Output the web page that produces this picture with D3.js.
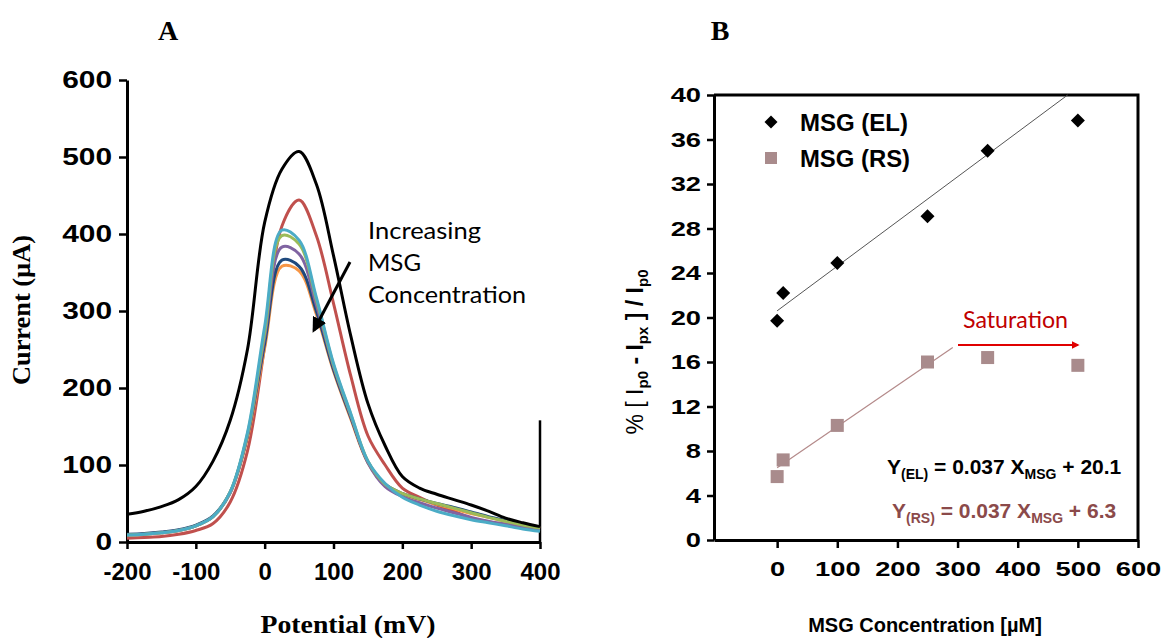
<!DOCTYPE html>
<html>
<head>
<meta charset="utf-8">
<script src="https://cdn.jsdelivr.net/npm/d3@7"></script>
<style>
  body { margin: 0; background: #fff; }
</style>
</head>
<body>
<div id="chart"></div>
<script>
// ---- panel A data: DPV curves, current (uA) vs potential (mV)
var potential = [-200,-175,-150,-125,-100,-75,-50,-25,0,25,50,75,100,125,150,175,200,225,250,275,300,325,350,375,400];
var curveBlack  = [36,40,46,55,72,105,158,250,415,484,507,465,372,268,180,125,85,70,62,55,48,40,31,25,20];
var curveRed    = [5,6,7,10,15,24,52,118,255,410,444,398,310,216,138,100,70,58,48,40,31,26,23,20,17];
var curveOrange = [9,10,12,15,21,33,64,135,252,358,352,296,222,160,103,74,62,55,49,43,37,32,27,22,18];
var curveNavy   = [10,11,13,16,22,34,65,138,258,366,358,300,224,162,104,75,63,56,50,45,39,33,28,23,19];
var curvePurple = [9,10,12,15,21,33,64,138,266,383,374,308,228,164,103,72,59,51,44,38,32,27,23,19,16];
var curveGreen  = [9,10,12,15,21,33,65,140,272,398,387,315,230,166,105,75,63,56,50,44,38,32,27,22,18];
var curveCyan   = [9,10,12,15,21,33,65,142,280,405,392,318,232,167,105,76,58,48,40,34,29,25,21,17,14];
var yTicksA = [0,100,200,300,400,500,600];
var xTicksA = [-200,-100,0,100,200,300,400];

// ---- panel B data: % signal drop vs MSG concentration (uM)
var conc = [0, 10, 100, 250, 350, 500];
var pctEL = [19.7, 22.2, 24.9, 29.1, 35.0, 37.7];
var pctRS = [5.7, 7.2, 10.3, 16.0, 16.4, 15.7];
var fitELx = [0, 483], fitELy = [20.6, 40];
var fitRSx = [0, 292], fitRSy = [6.5, 17.3];
var yTicksB = [0,4,8,12,16,20,24,28,32,36,40];
var xTicksB = [0,100,200,300,400,500,600];

var SANS = "'Liberation Sans', Arial, sans-serif";
var SERIF = "'Liberation Serif', 'Times New Roman', serif";
var CALI = "Lato, 'Open Sans', sans-serif";

var svg = d3.select("#chart").append("svg")
    .attr("width", 1162)
    .attr("height", 638)
    .style("font-family", SANS);

// widen a text horizontally by factor k (the reference text is stretched)
function stretch(sel, k) {
  sel.each(function() {
    var w = this.getComputedTextLength();
    d3.select(this).attr("textLength", w * k).attr("lengthAdjust", "spacingAndGlyphs");
  });
}

function styleAxis(g, size, k) {
  g.select(".domain").attr("stroke-width", 3);
  g.selectAll(".tick line").attr("stroke-width", 2.5);
  var t = g.selectAll(".tick text").attr("font-size", size).attr("font-weight", "bold")
    .style("font-family", SANS).attr("fill", "#000");
  stretch(t, k);
}

// =========== Panel A ===========
var xA = d3.scaleLinear().domain([-200, 400]).range([127, 540]);
var yA = d3.scaleLinear().domain([0, 600]).range([542, 80]);

var axA = svg.append("g")
    .attr("transform", "translate(127,0)")
    .call(d3.axisLeft(yA).tickValues(yTicksA).tickFormat(function(d) { return String(d); })
      .tickSize(8).tickSizeOuter(0).tickPadding(7));
styleAxis(axA, 23, 1.3);
var axAx = svg.append("g")
    .attr("transform", "translate(0,542)")
    .call(d3.axisBottom(xA).tickValues(xTicksA).tickFormat(function(d) { return String(d); })
      .tickSize(7).tickSizeOuter(0).tickPadding(14));
styleAxis(axAx, 24, 1.0);
// short right edge line at 400 mV
svg.append("line").attr("x1", xA(400)).attr("x2", xA(400))
  .attr("y1", yA(0)).attr("y2", yA(158)).attr("stroke", "#000").attr("stroke-width", 2.5);

var lineA = d3.line()
  .x(function(d) { return xA(d[0]); })
  .y(function(d) { return yA(d[1]); })
  .curve(d3.curveCatmullRom.alpha(0.5));

var seriesA = [
  {v: curveRed, c: "#c0504d"},
  {v: curveOrange, c: "#f79646"},
  {v: curveNavy, c: "#1f497d"},
  {v: curvePurple, c: "#8064a2"},
  {v: curveGreen, c: "#9bbb59"},
  {v: curveCyan, c: "#4bacc6"},
  {v: curveBlack, c: "#000000"}
];
seriesA.forEach(function(s) {
  svg.append("path")
    .datum(potential.map(function(p, i) { return [p, s.v[i]]; }))
    .attr("fill", "none")
    .attr("stroke", s.c)
    .attr("stroke-width", 3)
    .attr("d", lineA);
});

// annotation
var defs = svg.append("defs");
defs.append("marker")
    .attr("id", "headK").attr("viewBox", "0 0 10 10").attr("refX", 8).attr("refY", 5)
    .attr("markerWidth", 5).attr("markerHeight", 5).attr("orient", "auto")
  .append("path").attr("d", "M0,0L10,5L0,10z").attr("fill", "#000");
svg.append("line").attr("x1", 350).attr("y1", 262).attr("x2", 314).attr("y2", 330)
  .attr("stroke", "#000").attr("stroke-width", 3).attr("marker-end", "url(#headK)");
var annWidth = [113, 53, 158];
["Increasing", "MSG", "Concentration"].forEach(function(t, i) {
  svg.append("text").attr("x", 368).attr("y", 239 + i * 32)
    .style("font-family", CALI).attr("font-size", 24).attr("fill", "#000")
    .attr("textLength", annWidth[i]).attr("lengthAdjust", "spacingAndGlyphs")
    .text(t);
});

svg.append("text").attr("x", 168).attr("y", 40).attr("text-anchor", "middle")
  .style("font-family", SERIF).attr("font-size", 28).attr("font-weight", "bold").text("A");
svg.append("text").attr("x", 348).attr("y", 633).attr("text-anchor", "middle")
  .style("font-family", SERIF).attr("font-size", 25).attr("font-weight", "bold")
  .attr("textLength", 175).attr("lengthAdjust", "spacingAndGlyphs").text("Potential (mV)");
svg.append("text").attr("transform", "translate(30,310) rotate(-90)").attr("text-anchor", "middle")
  .style("font-family", SERIF).attr("font-size", 25).attr("font-weight", "bold")
  .attr("textLength", 150).attr("lengthAdjust", "spacingAndGlyphs").text("Current (\u00b5A)");

// =========== Panel B ===========
var xB = d3.scaleLinear().domain([-105, 600]).range([714, 1138]);
var yB = d3.scaleLinear().domain([0, 40]).range([540, 95]);

var axB = svg.append("g")
    .attr("transform", "translate(714,0)")
    .call(d3.axisLeft(yB).tickValues(yTicksB).tickSize(7).tickSizeOuter(0).tickPadding(6));
styleAxis(axB, 21, 1.3);
var axBx = svg.append("g")
    .attr("transform", "translate(0,540)")
    .call(d3.axisBottom(xB).tickValues(xTicksB).tickSize(8).tickSizeOuter(0).tickPadding(13));
styleAxis(axBx, 21, 1.3);
// top and right frame
svg.append("path").attr("d", "M" + xB(-105) + "," + yB(40) + "H" + xB(600) + "V" + yB(0))
  .attr("fill", "none").attr("stroke", "#000").attr("stroke-width", 3);

// trend lines
svg.append("line").attr("x1", xB(fitELx[0])).attr("y1", yB(fitELy[0]))
  .attr("x2", xB(fitELx[1])).attr("y2", yB(fitELy[1])).attr("stroke", "#555").attr("stroke-width", 1);
svg.append("line").attr("x1", xB(fitRSx[0])).attr("y1", yB(fitRSy[0]))
  .attr("x2", xB(fitRSx[1])).attr("y2", yB(fitRSy[1])).attr("stroke", "#b48a8a").attr("stroke-width", 1.2);

// markers
svg.append("g").selectAll("rect").data(conc).enter().append("rect")
  .attr("x", function(d) { return xB(d) - 6.5; })
  .attr("y", function(d, i) { return yB(pctRS[i]) - 6.5; })
  .attr("width", 13).attr("height", 13).attr("fill", "#a98b8c");
svg.append("g").selectAll("path").data(conc).enter().append("path")
  .attr("d", "M0,-7L7,0L0,7L-7,0Z")
  .attr("transform", function(d, i) { return "translate(" + xB(d) + "," + yB(pctEL[i]) + ")"; })
  .attr("fill", "#000");

// legend
svg.append("path").attr("d", "M0,-6.5L6.5,0L0,6.5L-6.5,0Z").attr("transform", "translate(771,122)").attr("fill", "#000");
svg.append("rect").attr("x", 765).attr("y", 152).attr("width", 12).attr("height", 12).attr("fill", "#a98b8c");
svg.append("text").attr("x", 800).attr("y", 131).attr("font-size", 24).attr("font-weight", "bold")
  .attr("textLength", 108).attr("lengthAdjust", "spacingAndGlyphs").text("MSG (EL)");
svg.append("text").attr("x", 800).attr("y", 167).attr("font-size", 24).attr("font-weight", "bold")
  .attr("textLength", 110).attr("lengthAdjust", "spacingAndGlyphs").text("MSG (RS)");

// saturation note
defs.append("marker")
    .attr("id", "headR").attr("viewBox", "0 0 10 10").attr("refX", 8).attr("refY", 5)
    .attr("markerWidth", 4).attr("markerHeight", 4).attr("orient", "auto")
  .append("path").attr("d", "M0,0L10,5L0,10z").attr("fill", "#e00000");
svg.append("line").attr("x1", 958).attr("y1", 345).attr("x2", 1078).attr("y2", 345)
  .attr("stroke", "#e00000").attr("stroke-width", 2).attr("marker-end", "url(#headR)");
svg.append("text").attr("x", 963).attr("y", 328).style("font-family", CALI)
  .attr("font-size", 23).attr("fill", "#c00000")
  .attr("textLength", 105).attr("lengthAdjust", "spacingAndGlyphs").text("Saturation");

// equations
function equation(x, y, sub1, rest, color) {
  var t = svg.append("text").attr("x", x).attr("y", y).attr("font-size", 21)
    .attr("font-weight", "bold").attr("fill", color);
  t.append("tspan").text("Y");
  t.append("tspan").attr("font-size", 14).attr("dy", 5).text(sub1);
  t.append("tspan").attr("dy", -5).text(" = 0.037 X");
  t.append("tspan").attr("font-size", 14).attr("dy", 5).text("MSG");
  t.append("tspan").attr("dy", -5).text(rest);
}
equation(887, 474, "(EL)", " + 20.1", "#000");
equation(892, 518, "(RS)", " + 6.3", "#8b4a4a");

svg.append("text").attr("x", 720).attr("y", 40).attr("text-anchor", "middle")
  .style("font-family", SERIF).attr("font-size", 28).attr("font-weight", "bold").text("B");
svg.append("text").attr("x", 925).attr("y", 632).attr("text-anchor", "middle")
  .attr("font-size", 20).attr("font-weight", "bold").text("MSG Concentration [\u00b5M]");

var yl = svg.append("text").attr("transform", "translate(643,352) rotate(-90)").attr("text-anchor", "middle")
  .attr("font-size", 23).attr("font-weight", "bold");
yl.append("tspan").attr("font-weight", "normal").text("% [ I");
yl.append("tspan").attr("font-size", 15).attr("dy", 5).text("p0");
yl.append("tspan").attr("dy", -5).text(" - I");
yl.append("tspan").attr("font-size", 15).attr("dy", 5).text("px");
yl.append("tspan").attr("dy", -5).text(" ] / I");
yl.append("tspan").attr("font-size", 15).attr("dy", 5).text("p0");
</script>
</body>
</html>
